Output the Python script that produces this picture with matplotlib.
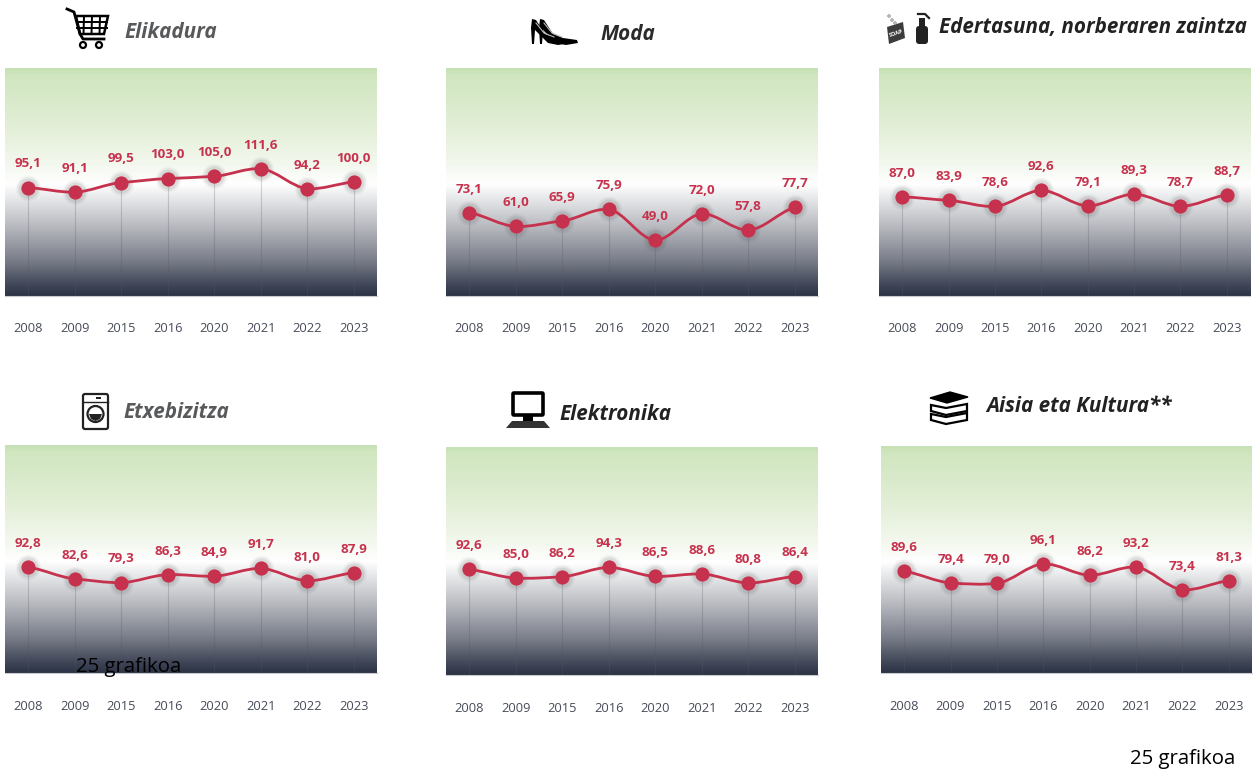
import matplotlib
matplotlib.use('Agg')
import matplotlib.pyplot as plt
import numpy as np
from matplotlib.colors import LinearSegmentedColormap
from matplotlib.patches import Polygon, Rectangle, Circle, FancyBboxPatch, PathPatch
from matplotlib.path import Path

plt.rcParams['font.family'] = ['Open Sans', 'Noto Sans', 'DejaVu Sans']

W, H = 1254, 769

years = ['2008', '2009', '2015', '2016', '2020', '2021', '2022', '2023']
elikadura = [95.1, 91.1, 99.5, 103.0, 105.0, 111.6, 94.2, 100.0]
moda = [73.1, 61.0, 65.9, 75.9, 49.0, 72.0, 57.8, 77.7]
edertasuna = [87.0, 83.9, 78.6, 92.6, 79.1, 89.3, 78.7, 88.7]
etxebizitza = [92.8, 82.6, 79.3, 86.3, 84.9, 91.7, 81.0, 87.9]
elektronika = [92.6, 85.0, 86.2, 94.3, 86.5, 88.6, 80.8, 86.4]
aisia = [89.6, 79.4, 79.0, 96.1, 86.2, 93.2, 73.4, 81.3]

red = '#c6324d'
bg = LinearSegmentedColormap.from_list('bg', [
    (0.00, '#c6e1b5'), (0.03, '#d0e6c0'), (0.25, '#e2eed5'), (0.42, '#f3f8ee'),
    (0.51, '#ffffff'), (0.55, '#eff0f1'), (0.70, '#b6b8be'), (0.85, '#777b87'),
    (0.94, '#474d5d'), (1.00, '#2b3245')])
gradient = np.linspace(0, 1, 256).reshape(-1, 1)


def smooth_line(ax, x, y):
    # bezier segments through the data points, like the soft line of the original
    y = np.asarray(y, dtype=float)
    slope = np.gradient(y) * 0.55
    verts = [(x[0], y[0])]
    codes = [Path.MOVETO]
    for i in range(len(x) - 1):
        verts += [(x[i] + 1 / 3, y[i] + slope[i] / 3),
                  (x[i + 1] - 1 / 3, y[i + 1] - slope[i + 1] / 3),
                  (x[i + 1], y[i + 1])]
        codes += [Path.CURVE4, Path.CURVE4, Path.CURVE4]
    ax.add_patch(PathPatch(Path(verts, codes), fc='none', ec=red, lw=2, zorder=3))


def panel(left, top, right, bottom, values, label_y):
    ax = fig.add_axes([left / W, 1 - bottom / H, (right - left) / W, (bottom - top) / H])
    ax.imshow(gradient, cmap=bg, aspect='auto', extent=[-0.5, 7.5, 0, 200], zorder=0)
    x = np.arange(len(values))
    ax.vlines(x, 0, values, color='#55586a', alpha=0.25, lw=0.8, zorder=1)
    # halo
    for s, a in [(340, 0.04), (270, 0.07), (200, 0.10)]:
        ax.scatter(x, values, s=s, color='#555555', alpha=a, lw=0, zorder=2)
    smooth_line(ax, x, values)
    ax.scatter(x, values, s=105, color=red, lw=0, zorder=4)
    for xi, v in zip(x, values):
        ax.annotate(f'{v:.1f}'.replace('.', ','), (xi, v), xytext=(0, 17),
                    textcoords='offset points', ha='center', va='center',
                    fontsize=9.6, fontweight='bold', color=red, zorder=5)
    ax.set_xlim(-0.5, 7.5)
    ax.set_ylim(0, 200)
    ax.set_yticks([])
    ax.set_xticks([])
    for name, sp in ax.spines.items():
        sp.set_visible(name == 'bottom')
    ax.spines['bottom'].set_color('#c9c9d0')
    # year labels sit well below the plot
    for xi, yr in zip(x, years):
        ax.annotate(yr, (xi, 0), xytext=(0, bottom - label_y - 1), textcoords='offset pixels',
                    ha='center', va='center', fontsize=9.3, color='#474c58', annotation_clip=False)
    return ax


fig = plt.figure(figsize=(W / 100, H / 100), dpi=100, facecolor='white')

panel(5, 68, 377, 296, elikadura, 328)
panel(446, 68, 818, 296, moda, 328)
panel(879, 68, 1250, 296, edertasuna, 328)
panel(5, 445, 377, 673, etxebizitza, 705)
panel(446, 447, 818, 675, elektronika, 707)
panel(881, 446, 1252, 673, aisia, 706)

# overlay in pixel coordinates for the titles and icons
ov = fig.add_axes([0, 0, 1, 1], zorder=10)
ov.set_xlim(0, W)
ov.set_ylim(H, 0)
ov.axis('off')
ov.patch.set_alpha(0)


def title(x, y, txt, col):
    ov.text(x, y, txt, fontsize=14.9, fontweight='bold', fontstyle='italic',
            color=col, ha='left', va='center')


title(124, 33, 'Elikadura', '#58595b')
title(600, 35, 'Moda', '#2b2b2b')
title(939, 28, 'Edertasuna, norberaren zaintza', '#222222')
title(123, 412, 'Etxebizitza', '#58595b')
title(559, 414, 'Elektronika', '#222222')
title(986, 406, 'Aisia eta Kultura**', '#222222')
ov.text(76, 667, '25 grafikoa', fontsize=14.7, color='black', ha='left', va='center')
ov.text(1130, 759, '25 grafikoa', fontsize=14.7, color='black', ha='left', va='center')

k = 'black'
# cart
ov.plot([67, 74, 80, 83, 104], [9, 12, 34, 39, 39], color=k, lw=2)
ov.add_patch(Polygon([[76, 16], [108, 16], [104, 34], [80, 34]], closed=True, fc='none', ec=k, lw=1.8))
for xx in (84, 92, 100):
    ov.plot([xx, xx - 0.5], [16, 34], color=k, lw=1.4)
for yy in (22, 28):
    ov.plot([77, 107], [yy, yy], color=k, lw=1.4)
for cx in (83, 99):
    ov.add_patch(Circle((cx, 45), 3, fc='white', ec=k, lw=1.6))
# heels
for dx, dy in ((-8, 0), (0, -1)):
    ov.add_patch(Polygon([[540 + dx, 19], [544 + dx, 20], [553 + dx, 34], [563 + dx, 38],
                          [577 + dx, 40], [578 + dx, 43], [566 + dx, 45], [556 + dx, 43],
                          [546 + dx, 33], [543 + dx, 30], [542 + dx, 44], [540 + dx, 44], [539 + dx, 28]],
                         closed=True, fc='black', ec='none'))
    ov.plot([544 + dx, 552 + dx, 562 + dx], [23, 33, 37], color='#bbbbbb', lw=0.8)
# soap and bottle
ov.add_patch(Polygon([[887, 27], [903, 22], [905, 38], [889, 44]], closed=True, fc='#3c3c3c', ec='none'))
ov.text(896, 33, 'SOAP', fontsize=4, color='white', fontweight='bold', rotation=18, ha='center', va='center')
for cx, cy in ((889, 16), (892, 20), (895, 23)):
    ov.add_patch(Circle((cx, cy), 1.2, fc='white', ec='#777777', lw=0.6))
ov.add_patch(FancyBboxPatch((916, 26), 12, 18, boxstyle='round,pad=0,rounding_size=3', fc='#222222', ec='none'))
ov.add_patch(Rectangle((919, 18), 6, 8, fc='#222222', ec='none'))
ov.plot([918, 925, 929], [14, 14, 18], color='#222222', lw=1.6)
# washing machine
ov.add_patch(FancyBboxPatch((83, 394), 25, 35, boxstyle='round,pad=0,rounding_size=2', fc='white', ec='#222222', lw=1.6))
ov.plot([83, 108], [402, 402], color='#222222', lw=1)
ov.add_patch(Circle((95.5, 414), 8, fc='white', ec='#222222', lw=1.6))
ov.add_patch(Polygon([[89, 414], [102, 414], [100, 419], [95.5, 421], [91, 419]], closed=True, fc='#222222', ec='none'))
ov.add_patch(Rectangle((96, 397), 5, 2, fc='#222222', ec='none'))
# computer
ov.add_patch(FancyBboxPatch((513, 393), 30, 22, boxstyle='round,pad=0,rounding_size=1', fc='white', ec='black', lw=2.6))
ov.add_patch(Rectangle((523, 416), 10, 5, fc='black', ec='none'))
ov.add_patch(Polygon([[512, 421], [544, 421], [550, 428], [506, 428]], closed=True, fc='#333333', ec='none'))
# books
for yy in (414, 405):
    ov.add_patch(Polygon([[931, yy], [946, yy + 3], [967, yy - 1], [967, yy + 6], [946, yy + 10], [931, yy + 6]],
                         closed=True, fc='white', ec='black', lw=1.6))
ov.add_patch(Polygon([[930, 398], [950, 392], [968, 397], [947, 403]], closed=True, fc='black', ec='black', lw=1))

fig.savefig('out.png', dpi=100, facecolor='white')
